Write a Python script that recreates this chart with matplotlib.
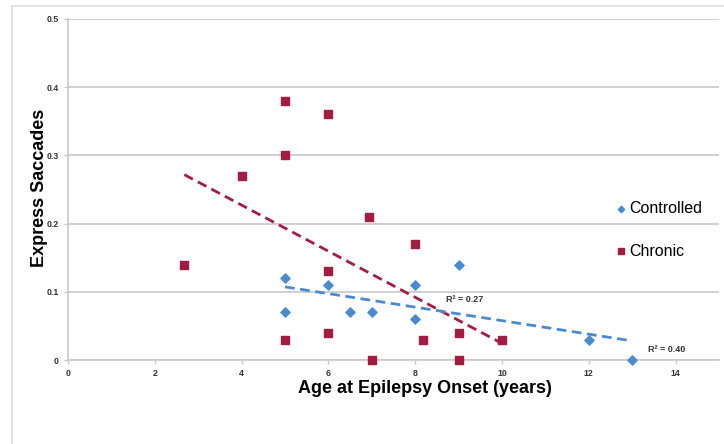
import matplotlib
matplotlib.use("Agg")
import matplotlib.pyplot as plt
import numpy as np
from matplotlib.patches import Rectangle

plt.rcParams['font.family'] = ['Liberation Sans', 'DejaVu Sans']

# Data
controlled_x = [5, 5, 6, 6.5, 7, 8, 8, 9, 12, 13]
controlled_y = [0.12, 0.07, 0.11, 0.07, 0.07, 0.11, 0.06, 0.14, 0.03, 0.0]
chronic_x = [2.68, 4, 5, 5, 5, 6, 6, 6, 6.93, 7, 8, 8.17, 9, 9, 10]
chronic_y = [0.14, 0.27, 0.38, 0.30, 0.03, 0.36, 0.13, 0.04, 0.21, 0.0, 0.17, 0.03, 0.04, 0.0, 0.03]
r2_chronic = "R² = 0.27"
r2_controlled = "R² = 0.40"
xticks = [0, 2, 4, 6, 8, 10, 12, 14]
yticks = [0, 0.1, 0.2, 0.3, 0.4, 0.5]
ytick_labels = ["0", "0.1", "0.2", "0.3", "0.4", "0.5"]

blue = "#4A8BD0"
red = "#A21D41"

fig = plt.figure(figsize=(7.24, 4.44), dpi=100)
# outer light frame
fig.patches.append(Rectangle((11.5/724, -0.1), 2.0, (444-6)/444 + 0.1,
                             transform=fig.transFigure, fill=False,
                             edgecolor="#e2e2e2", linewidth=1.5))

ax = fig.add_axes([68/724, 1 - 360/444, (719-68)/724, (360-19)/444])
ax.set_xlim(0, 15)
ax.set_ylim(0, 0.5)

ax.set_yticks(yticks)
ax.set_yticklabels(ytick_labels)
ax.set_xticks(xticks)
ax.set_xticklabels([str(t) for t in xticks])
ax.grid(axis='y', color="#c8c8c8", linewidth=1.2)
ax.set_axisbelow(True)
for s in ['top', 'right']:
    ax.spines[s].set_visible(False)
for s in ['left', 'bottom']:
    ax.spines[s].set_color("#c8c8c8")
    ax.spines[s].set_linewidth(1.2)
ax.tick_params(axis='both', colors="#c8c8c8", length=3, width=1, labelsize=6.3,
               labelcolor="#333333")
for lab in ax.get_xticklabels() + ax.get_yticklabels():
    lab.set_fontweight('bold')

# trend lines
cx = np.array(chronic_x); cy = np.array(chronic_y)
m, b = np.polyfit(cx, cy, 1)
xx = np.array([cx.min(), cx.max()])
ax.plot(xx, m*xx + b, color=red, linestyle=(0, (3.5, 2)), linewidth=2, zorder=2)
bx = np.array(controlled_x); by = np.array(controlled_y)
m2, b2 = np.polyfit(bx, by, 1)
xx2 = np.array([bx.min(), bx.max()])
ax.plot(xx2, m2*xx2 + b2, color=blue, linestyle=(0, (3.5, 2)), linewidth=2, zorder=2)

ax.scatter(controlled_x, controlled_y, marker='D', s=22, color=blue, zorder=3,
           label="Controlled", clip_on=False)
ax.scatter(chronic_x, chronic_y, marker='s', s=38, color=red, zorder=3,
           label="Chronic", clip_on=False)

ax.text(9.13, 0.088, r2_chronic, fontsize=6.5, fontweight='bold', color="#333333",
        ha='center', va='center')
ax.text(13.8, 0.016, r2_controlled, fontsize=6.5, fontweight='bold', color="#333333",
        ha='center', va='center')

ax.set_xlabel("Age at Epilepsy Onset (years)", fontsize=13, fontweight='bold')
ax.xaxis.set_label_coords(0.548, -0.058)
ax.set_ylabel("Express Saccades", fontsize=13, fontweight='bold')
ax.yaxis.set_label_coords(-0.031, 0.506)

leg = ax.legend(loc='upper left', bbox_to_anchor=(600/724, 1 - 187/444),
                bbox_transform=fig.transFigure, frameon=False, fontsize=11.5,
                handletextpad=0.1, labelspacing=1.7, markerscale=0.7,
                handlelength=0.8)

fig.savefig("out.png", dpi=100)
